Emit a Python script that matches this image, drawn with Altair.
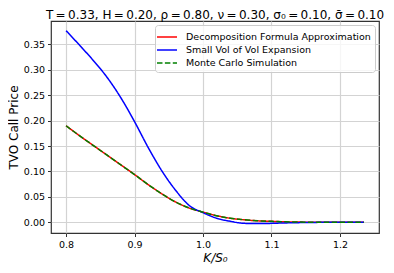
import altair as alt
import pandas as pd

# strike / spot
k_values = [0.80, 0.82, 0.84, 0.86, 0.88, 0.90, 0.92, 0.94, 0.96, 0.98, 1.00,
            1.02, 1.04, 1.06, 1.08, 1.10, 1.12, 1.14, 1.16, 1.18, 1.20, 1.22, 1.235]

decomposition = [0.190, 0.170, 0.151, 0.132, 0.113, 0.094, 0.074, 0.056, 0.040, 0.028, 0.020,
                 0.013, 0.008, 0.005, 0.003, 0.002, 0.001, 0.0005, 0.0002, 0.0001, 0.0, 0.0, 0.0]

small_vol = [0.377, 0.348, 0.318, 0.285, 0.245, 0.198, 0.147, 0.101, 0.063, 0.033, 0.019,
             0.008, 0.002, -0.002, -0.0025, -0.002, -0.0012, -0.0006, -0.0002, 0.0, 0.0, 0.0, 0.0]

monte_carlo = [0.190, 0.170, 0.151, 0.132, 0.113, 0.094, 0.074, 0.056, 0.040, 0.028, 0.020,
               0.013, 0.008, 0.005, 0.003, 0.002, 0.001, 0.0005, 0.0002, 0.0001, 0.0, 0.0, 0.0]

series_names = ["Decomposition Formula Approximation",
                "Small Vol of Vol Expansion",
                "Monte Carlo Simulation"]
series_colors = ["#ff0000", "#0000ff", "#008000"]
series_dashes = [[1, 0], [1, 0], [5.5, 2.4]]

x_ticks = [0.8, 0.9, 1.0, 1.1, 1.2]
y_ticks = [0.00, 0.05, 0.10, 0.15, 0.20, 0.25, 0.30, 0.35]

TS = "\u2009"
title_text = [f"T{TS}={TS}0.33,  H{TS}={TS}0.20,  ρ{TS}={TS}0.80,  ν{TS}={TS}0.30,  "
              f"σ₀{TS}={TS}0.10,  σ̄{TS}={TS}0.10"]

rows = []
for name, vals in zip(series_names, [decomposition, small_vol, monte_carlo]):
    for k, v in zip(k_values, vals):
        rows.append({"K": k, "price": v, "series": name})
df = pd.DataFrame(rows)
title_df = pd.DataFrame({"t": title_text})

FONT = "DejaVu Sans"
W, H = 328, 212

color = alt.Color("series:N",
                  scale=alt.Scale(domain=series_names, range=series_colors),
                  legend=alt.Legend(title=None))
dash = alt.StrokeDash("series:N",
                      scale=alt.Scale(domain=series_names, range=series_dashes),
                      legend=alt.Legend(title=None))

x_enc = alt.X("K:Q", scale=alt.Scale(domain=[0.778, 1.257], nice=False, zero=False),
              axis=alt.Axis(values=x_ticks, format=".1f", title="K/S₀",
                            titleFontStyle="italic"))
y_enc = alt.Y("price:Q", scale=alt.Scale(domain=[-0.021, 0.396], nice=False, zero=False),
              axis=alt.Axis(values=y_ticks, format=".2f", title="TVO Call Price"))

layers = []
for name in series_names:
    layers.append(
        alt.Chart(df).transform_filter(alt.datum.series == name)
        .mark_line(strokeWidth=1.5, clip=True, interpolate="monotone")
        .encode(x=x_enc, y=y_enc, color=color, strokeDash=dash, order="K:Q")
    )

title_layer = alt.Chart(title_df).mark_text(
    font=FONT, fontSize=12, color="black", align="center", baseline="alphabetic"
).encode(text="t:N", x=alt.value(W / 2), y=alt.value(-2.5))

chart = alt.layer(*layers, title_layer).properties(
    width=W, height=H,
    autosize=alt.AutoSizeParams(type="none"),
    padding={"left": 43, "top": 13, "right": 7, "bottom": 32},
).configure_view(
    stroke="#333333", strokeWidth=1.2
).configure_axis(
    domain=False, grid=True, gridColor="#d3d3d3", gridWidth=1.2,
    tickColor="#333333", tickSize=3.5, tickWidth=1,
    labelFont=FONT, labelFontSize=9.5, labelColor="black", labelPadding=3,
    titleFont=FONT, titleFontSize=12, titleFontWeight="normal", titleColor="black",
    titlePadding=3,
).configure_legend(
    orient="top-right", offset=4,
    strokeColor="#cccccc", fillColor="rgba(255,255,255,0.8)", cornerRadius=3,
    padding=4, symbolType="M-1.43,0H1.43", symbolSize=196, symbolStrokeWidth=1.5,
    labelFont=FONT, labelFontSize=9.5, labelColor="black", labelLimit=400,
    labelOffset=11, rowPadding=0,
)

chart.save("out.html", embed_options={"renderer": "svg", "actions": False})
